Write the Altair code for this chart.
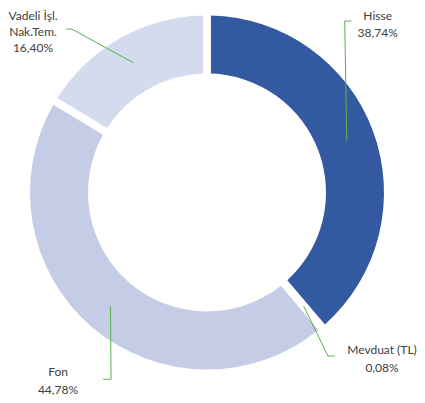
import math
import altair as alt
import pandas as pd

# ---- data ----
categories = ["Hisse", "Mevduat (TL)", "Fon", "Vadeli İşl. Nak.Tem."]
label_lines = [["Hisse"], ["Mevduat (TL)"], ["Fon"], ["Vadeli İşl.", "Nak.Tem."]]
values = [38.74, 0.08, 44.78, 16.40]
colors = ["#335AA0", "#9AAAD6", "#C5CCE6", "#D5DBEE"]

# ---- layout (page pixel coords, y down) ----
OX, OY = 8, 8                 # page position of plot-area origin
W, H = 409, 387               # plot-area size
CX, CY = 207, 192.5           # ring centre (page coords)
R_OUT, R_IN = 177, 119
R_ANCHOR = 149
LINE_COLOR = "#56B44C"
TEXT_COLOR = "#404040"
FONT = "Lato"
FS = 12
# per label: elbow point, line end point, text block centre, line height (page coords)
layout = {
    "Hisse": dict(elbow=(344.7, 21), end=(351.3, 21), text=(377.7, 24.5), lh=17),
    "Mevduat (TL)": dict(elbow=(328, 356), end=(335, 356), text=(382, 358.5), lh=18),
    "Fon": dict(elbow=(111, 379.3), end=(103, 379.3), text=(58, 380.5), lh=18),
    "Vadeli İşl. Nak.Tem.": dict(elbow=(71.7, 29), end=(66, 29), text=(33, 32), lh=16),
}

total = sum(values)
arc_df = pd.DataFrame({"cat": categories, "value": values, "idx": list(range(len(values)))})

line_rows, text_rows = [], []
cum = 0.0
for i, (c, v) in enumerate(zip(categories, values)):
    mid = (cum + v / 2) / total * 2 * math.pi
    cum += v
    ax = CX + R_ANCHOR * math.sin(mid)
    ay = CY - R_ANCHOR * math.cos(mid)
    L = layout[c]
    for k, (px, py) in enumerate([(ax, ay), L["elbow"], L["end"]]):
        line_rows.append({"cat": c, "k": k, "px": px, "py": py})
    lines = label_lines[i] + [f"{v:.2f}".replace(".", ",") + "%"]
    n = len(lines)
    tx, ty = L["text"]
    for j, t in enumerate(lines):
        text_rows.append({"cat": c, "t": t, "px": tx, "py": ty + (j - (n - 1) / 2) * L["lh"]})

line_df = pd.DataFrame(line_rows)
text_df = pd.DataFrame(text_rows)

xs = alt.Scale(domain=[OX, OX + W], range=[0, W])
ys = alt.Scale(domain=[OY, OY + H], range=[0, H])

arcs = alt.Chart(arc_df).mark_arc(
    innerRadius=R_IN, outerRadius=R_OUT, padAngle=0.037
).encode(
    theta=alt.Theta("value:Q", stack=True),
    order=alt.Order("idx:Q"),
    color=alt.Color("cat:N", scale=alt.Scale(domain=categories, range=colors), legend=None),
    x=alt.value(CX - OX),
    y=alt.value(CY - OY),
)

leaders = alt.Chart(line_df).mark_line(color=LINE_COLOR, strokeWidth=1).encode(
    x=alt.X("px:Q", scale=xs, axis=None),
    y=alt.Y("py:Q", scale=ys, axis=None),
    detail="cat:N",
    order="k:Q",
)

texts = alt.Chart(text_df).mark_text(
    font=FONT, fontSize=FS, color=TEXT_COLOR, align="center", baseline="middle"
).encode(
    x=alt.X("px:Q", scale=xs, axis=None),
    y=alt.Y("py:Q", scale=ys, axis=None),
    text="t:N",
)

chart = alt.layer(arcs, leaders, texts).properties(
    width=W, height=H,
    padding=0,
    autosize=alt.AutoSizeParams(type="none"),
).configure_view(stroke=None).resolve_scale(color="independent")

chart.save("out.html", embed_options={"renderer": "svg", "actions": False})
